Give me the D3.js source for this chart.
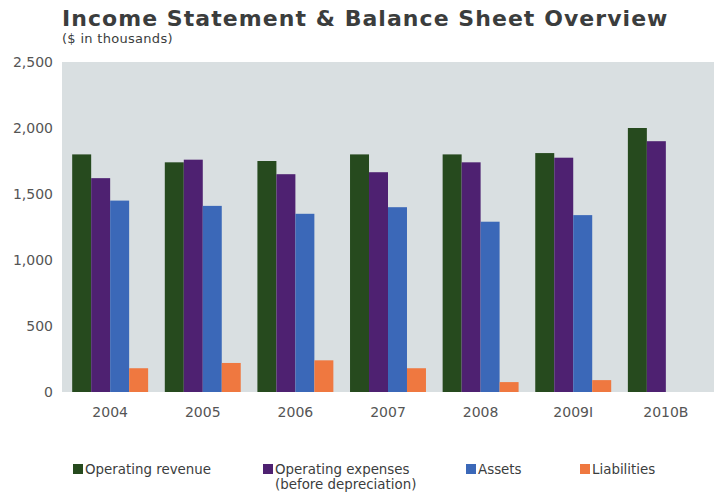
<!DOCTYPE html>
<html><head><meta charset="utf-8">
<script src="https://cdn.jsdelivr.net/npm/d3@7"></script>
<style>body{margin:0;background:#fff;} svg{display:block;font-family:"DejaVu Sans",Verdana,sans-serif;}</style>
</head><body><svg id="c" width="714" height="492"></svg>
<script>
const categories = ["2004","2005","2006","2007","2008","2009I","2010B"];
const seriesNames = ["Operating revenue","Operating expenses","Assets","Liabilities"];
const operatingRevenue = [1800,1740,1750,1800,1800,1810,2000];
const operatingExpenses = [1620,1760,1650,1665,1740,1775,1900];
const assets = [1450,1410,1350,1400,1290,1340,null];
const liabilities = [180,220,240,180,75,90,null];
const yTicks = [0,500,1000,1500,2000,2500];
const colors = ["#264a1e","#4e2171","#3b68b8","#ef7840"];

const series = [operatingRevenue, operatingExpenses, assets, liabilities];
const svg = d3.select("#c");
const L = 62, R = 714, T = 62, B = 392;

const x = d3.scaleBand().domain(categories).range([L, R]).paddingInner(0.18).paddingOuter(0.11);
const xs = d3.scaleBand().domain(d3.range(4)).range([0, x.bandwidth()]);
const y = d3.scaleLinear().domain([0,2500]).range([B, T]);

svg.append("rect").attr("x", L).attr("y", T).attr("width", R-L).attr("height", B-T).attr("fill", "#d9dfe1");

svg.append("text").attr("x", 62).attr("y", 26).attr("font-size", 22).attr("font-weight", "bold")
  .attr("letter-spacing", 1.05).attr("fill", "#3b3d3d").text("Income Statement & Balance Sheet Overview");
svg.append("text").attr("x", 62).attr("y", 43).attr("font-size", 13).attr("letter-spacing", 0.3).attr("fill", "#3b3d3d").text("($ in thousands)");

const ya = svg.append("g").attr("transform", `translate(${L},0)`)
  .call(d3.axisLeft(y).tickValues(yTicks).tickFormat(d3.format(",")).tickSize(0).tickPadding(9));
ya.select(".domain").remove();
ya.selectAll("text").attr("font-size", 14).attr("fill", "#555").attr("font-family", "DejaVu Sans, Verdana, sans-serif");

const xa = svg.append("g").attr("transform", `translate(0,${B})`)
  .call(d3.axisBottom(x).tickSize(0).tickPadding(15));
xa.select(".domain").remove();
xa.selectAll("text").attr("font-size", 14).attr("fill", "#555").attr("font-family", "DejaVu Sans, Verdana, sans-serif");

series.forEach((vals, si) => {
  svg.append("g").selectAll("rect").data(vals.map((v,i)=>({v, c: categories[i]})).filter(d => d.v != null))
    .join("rect")
    .attr("x", d => x(d.c) + xs(si))
    .attr("width", xs.bandwidth())
    .attr("y", d => y(d.v))
    .attr("height", d => y(0) - y(d.v))
    .attr("fill", colors[si]);
});

const legendX = [73, 263, 466, 580];
const legendLabels = [["Operating revenue"],["Operating expenses","(before depreciation)"],["Assets"],["Liabilities"]];
legendLabels.forEach((lines, i) => {
  const g = svg.append("g").attr("transform", `translate(${legendX[i]},469)`);
  g.append("rect").attr("x", 0).attr("y", -5).attr("width", 10).attr("height", 10).attr("fill", colors[i]);
  lines.forEach((t, j) => g.append("text").attr("x", 12).attr("y", 5 + j*15).attr("font-size", 13.4).attr("fill", "#3b3d3d").text(t));
});
</script></body></html>
